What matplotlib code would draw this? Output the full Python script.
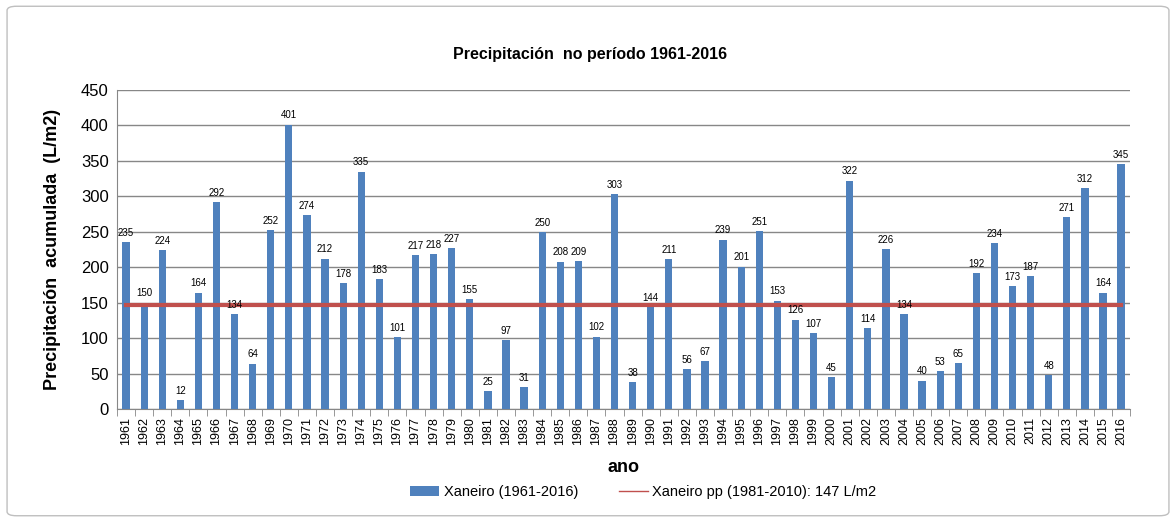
import numpy as np
import matplotlib.pyplot as plt
from matplotlib.patches import FancyBboxPatch

# Data
years = list(range(1961, 2017))
precip = [235, 150, 224, 12, 164, 292, 134, 64, 252, 401,
          274, 212, 178, 335, 183, 101, 217, 218, 227, 155,
          25, 97, 31, 250, 208, 209, 102, 303, 38, 144,
          211, 56, 67, 239, 201, 251, 153, 126, 107, 45,
          322, 114, 226, 134, 40, 53, 65, 192, 234, 173,
          187, 48, 271, 312, 164, 345]
mean_pp = 147

title = 'Precipitación  no período 1961-2016'
ylabel = 'Precipitación  acumulada  (L/m2)'
xlabel = 'ano'
bar_label = 'Xaneiro (1961-2016)'
line_label = 'Xaneiro pp (1981-2010): 147 L/m2'

plt.rcParams['font.family'] = ['Liberation Sans', 'DejaVu Sans']

fig = plt.figure(figsize=(11.76, 5.22), dpi=100)
ax = fig.add_axes([0.0995, 0.2165, 0.8615, 0.6111])

# chart border
border = FancyBboxPatch((0.006, 0.012), 0.988, 0.976, boxstyle='round,pad=0,rounding_size=0.008',
                        transform=fig.transFigure, fill=False, edgecolor='#BFBFBF', linewidth=1)
fig.patches.append(border)

x = np.arange(len(years))
bars = ax.bar(x, precip, width=0.4, color='#4F81BD', zorder=3, label=bar_label)
ax.plot([x[0], x[-1]], [mean_pp, mean_pp], color='#C0504D', linewidth=3, zorder=4,
        label=line_label)

for xi, v in zip(x, precip):
    ax.text(xi, v + 6, str(v), ha='center', va='bottom', fontsize=7, zorder=5)

ax.set_xlim(-0.5, len(years) - 0.5)
ax.set_ylim(0, 450)
ax.set_yticks(np.arange(0, 451, 50))
ax.yaxis.grid(True, color='#878787', linewidth=1)
ax.set_axisbelow(True)
ax.tick_params(axis='y', length=0, labelsize=12, pad=6)

ax.set_xticks(x)
ax.set_xticklabels([str(y) for y in years], rotation=90, fontsize=9)
ax.set_xticks(np.arange(-0.5, len(years), 1), minor=True)
ax.tick_params(axis='x', which='major', length=0, pad=6)
ax.tick_params(axis='x', which='minor', length=5, color='#878787', direction='out')

for side in ['top', 'right']:
    ax.spines[side].set_visible(False)
ax.spines['left'].set_color('#878787')
ax.spines['bottom'].set_color('#878787')

# title is centred on the whole chart, not on the plot area
fig.text(0.502, 0.895, title, fontsize=11.5, fontweight='bold', ha='center', va='center')
ax.set_ylabel(ylabel, fontsize=13, fontweight='bold', labelpad=14)
ax.set_xlabel(xlabel, fontsize=13, fontweight='bold', labelpad=10)

leg = fig.legend([bars, ax.lines[0]], [bar_label, line_label], loc='center',
                 bbox_to_anchor=(0.547, 0.058), ncol=2, frameon=False, fontsize=10.5,
                 handlelength=2.0, handletextpad=0.3, columnspacing=2.8)
leg.get_lines()[0].set_linewidth(1)

fig.savefig('out.png', dpi=100)
